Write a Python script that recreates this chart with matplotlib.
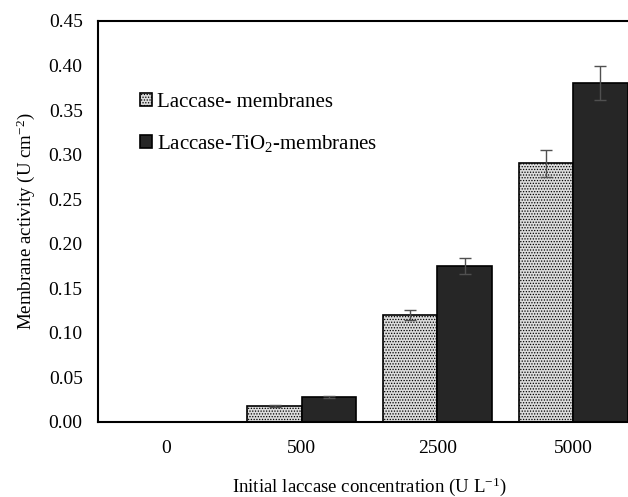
import numpy as np
import matplotlib
matplotlib.use('Agg')
from matplotlib import pyplot as plt

plt.rcParams['font.family'] = ['Liberation Serif', 'DejaVu Serif']
plt.rcParams['mathtext.fontset'] = 'custom'
plt.rcParams['mathtext.rm'] = 'Liberation Serif'
plt.rcParams['mathtext.it'] = 'Liberation Serif:italic'
plt.rcParams['hatch.color'] = '#8a8a8a'
plt.rcParams['hatch.linewidth'] = 0.6

# 数据
categories = ['0', '500', '2500', '5000']
laccase = [0.0, 0.018, 0.12, 0.29]
laccase_err = [0.0, 0.001, 0.006, 0.015]
laccase_tio2 = [0.0, 0.028, 0.175, 0.38]
laccase_tio2_err = [0.0, 0.0015, 0.009, 0.019]

fig = plt.figure(figsize=(6.28, 4.97), dpi=100)
ax = fig.add_axes([0.156, 0.151, 0.865, 0.807])

x = np.arange(len(categories))
w = 0.4
ax.bar(x - w / 2, laccase, w, color='#dcdcdc', edgecolor='black', linewidth=1.2,
       hatch='......', label='Laccase- membranes', zorder=2)
ax.bar(x + w / 2, laccase_tio2, w, color='#262626', edgecolor='black', linewidth=1.2,
       label='Laccase-TiO$_\\mathrm{2}$-membranes', zorder=2)
# 误差棒
ax.errorbar(x[1:] - w / 2, laccase[1:], yerr=laccase_err[1:], fmt='none',
            ecolor='#505050', elinewidth=1, capsize=4, capthick=1, zorder=3)
ax.errorbar(x[1:] + w / 2, laccase_tio2[1:], yerr=laccase_tio2_err[1:], fmt='none',
            ecolor='#505050', elinewidth=1, capsize=4, capthick=1, zorder=3)

ax.set_xlim(-0.5, 3.5)
ax.set_ylim(0, 0.45)
ax.set_yticks(np.arange(0, 0.451, 0.05))
ax.set_yticklabels(['%.2f' % v for v in np.arange(0, 0.451, 0.05)])
ax.set_xticks(x)
ax.set_xticklabels(categories)
ax.tick_params(axis='both', length=0, labelsize=14)
ax.tick_params(axis='y', pad=11)
ax.tick_params(axis='x', pad=13)
for s in ax.spines.values():
    s.set_linewidth(1.5)

ax.set_ylabel('Membrane activity (U cm$^{\\mathrm{-2}}$)', fontsize=13.6, labelpad=8)
ax.set_xlabel('Initial laccase concentration (U L$^{\\mathrm{-1}}$)', fontsize=13.6, labelpad=13)

ax.legend(loc='upper left', bbox_to_anchor=(0.043, 0.867), frameon=False,
          fontsize=15, handlelength=0.55, handleheight=0.55, handletextpad=0.25,
          labelspacing=1.0)

fig.savefig('out.png', dpi=100)
